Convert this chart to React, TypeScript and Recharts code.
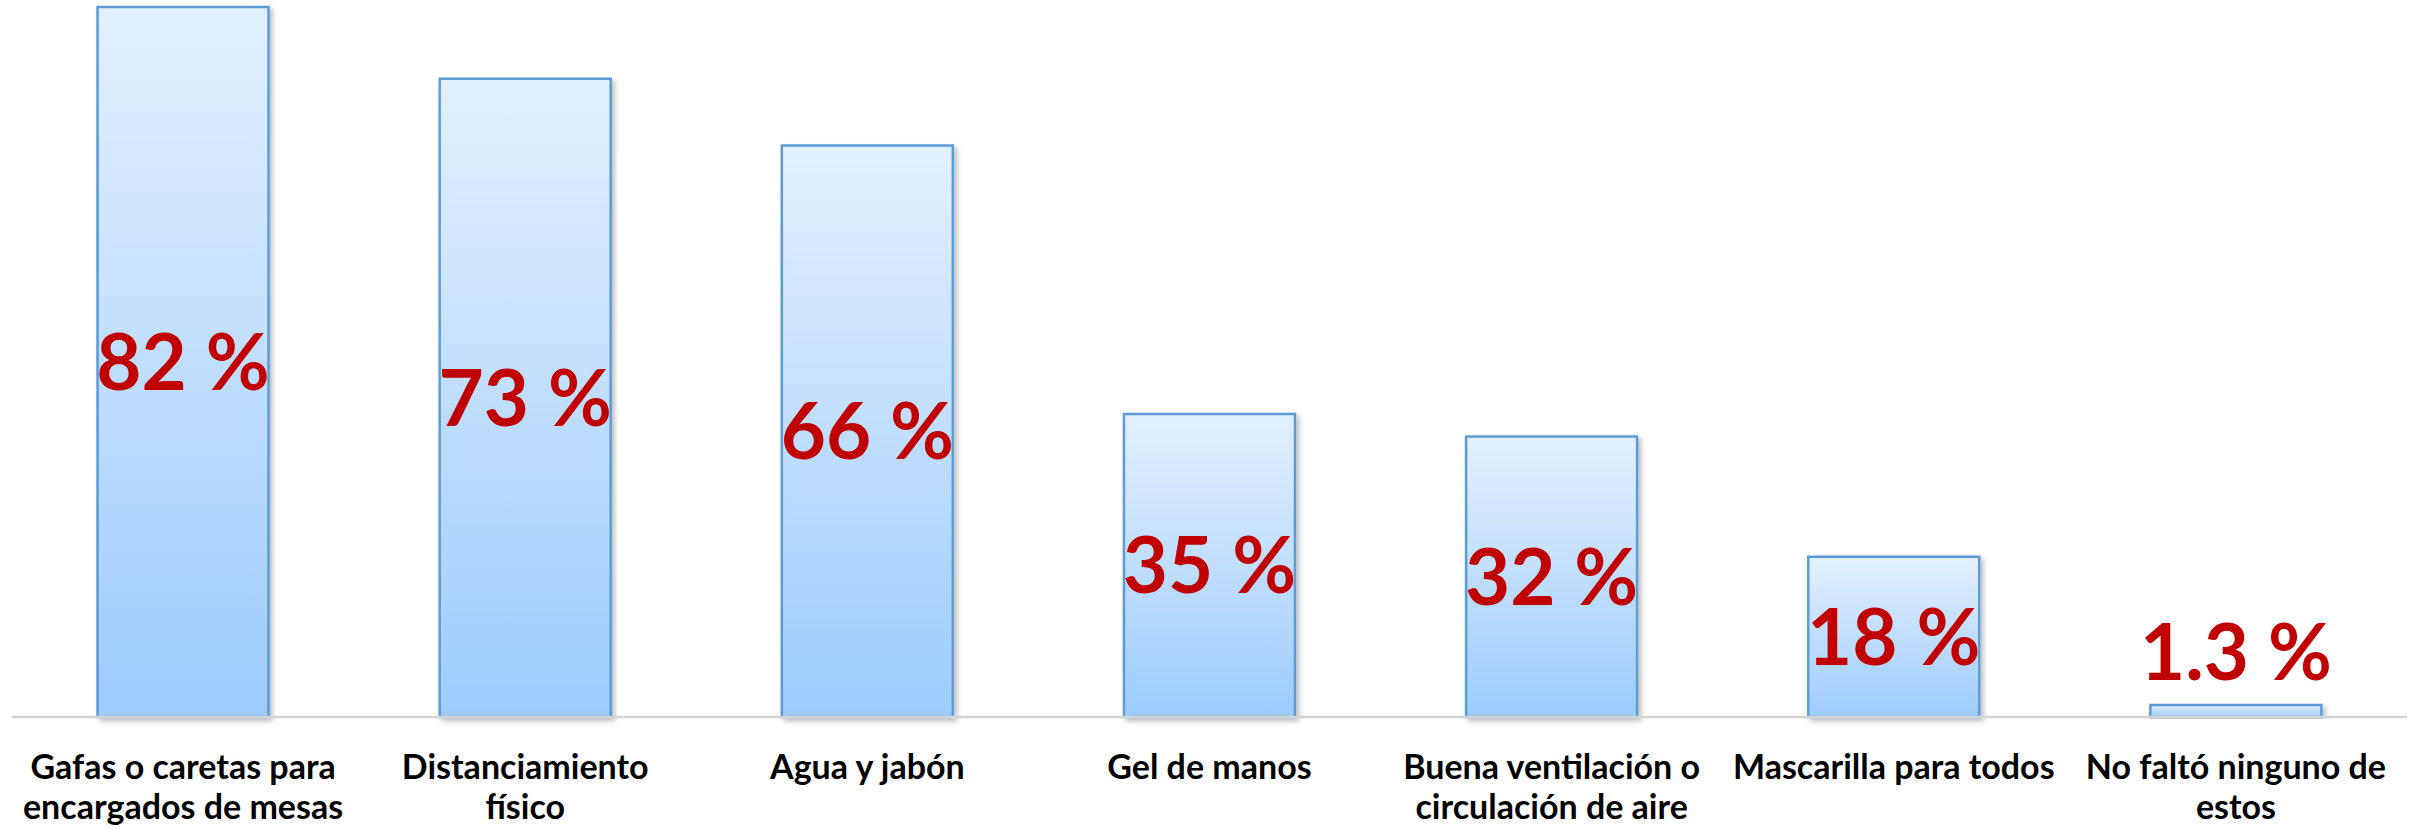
import React from 'react';
import { BarChart, Bar, XAxis, YAxis, LabelList } from 'recharts';

// Categories (line breaks as in the original)
const categories = [
  'Gafas o caretas para\nencargados de mesas',
  'Distanciamiento\nfísico',
  'Agua y jabón',
  'Gel de manos',
  'Buena ventilación o\ncirculación de aire',
  'Mascarilla para todos',
  'No faltó ninguno de\nestos',
];

// Bar heights (%)
const values = [82, 73.7, 66, 35, 32.4, 18.5, 1.4];

// Printed labels
const valueLabels = ['82 %', '73 %', '66 %', '35 %', '32 %', '18 %', '1.3 %'];

const data = categories.map((name, i) => ({ name, value: values[i], label: valueLabels[i] }));

const FONT = 'Lato, "Open Sans", sans-serif';

const CategoryTick = (props: any) => {
  const { x, y, payload } = props;
  const lines: string[] = String(payload.value).split('\n');
  return (
    <text x={x} y={y} textAnchor="middle" fontFamily={FONT} fontWeight={700} fontSize={34} fill="#000">
      {lines.map((line, i) => (
        <tspan key={i} x={x} dy={i === 0 ? 54 : 40}>{line}</tspan>
      ))}
    </text>
  );
};

const ValueLabel = (props: any) => {
  const { x, y, width, height, index } = props;
  const cx = x + width / 2;
  const inside = height > 60;
  const ty = inside ? y + height / 2 + 28 : y - 25;
  return (
    <text x={cx} y={ty} textAnchor="middle" fontFamily={FONT} fontWeight={700} fontSize={78} fill="#C00000">
      {valueLabels[index]}
    </text>
  );
};

const App: React.FC = () => {
  return (
    <div style={{ position: 'fixed', left: 0, top: 0, width: 2422, height: 829, background: '#fff' }}>
      <BarChart
        width={2422}
        height={829}
        data={data}
        margin={{ top: 7, right: 15, left: 12, bottom: 0 }}
        barCategoryGap="25%"
      >
        <defs>
          <linearGradient id="barFill" x1="0" y1="0" x2="0" y2="1">
            <stop offset="0%" stopColor="#E3F0FE" />
            <stop offset="100%" stopColor="#9DCCFC" />
          </linearGradient>
          <filter id="barShadow" x="-10%" y="-10%" width="125%" height="125%">
            <feDropShadow dx="3" dy="3" stdDeviation="2.5" floodColor="#000" floodOpacity="0.25" />
          </filter>
        </defs>
        <XAxis
          dataKey="name"
          height={112}
          axisLine={{ stroke: '#D4D4D4', strokeWidth: 2.5 }}
          tickLine={false}
          tick={<CategoryTick />}
          interval={0}
        />
        <YAxis hide domain={[0, 82]} />
        <Bar
          dataKey="value"
          fill="url(#barFill)"
          stroke="#5B9BD5"
          strokeWidth={2.5}
          filter="url(#barShadow)"
          isAnimationActive={false}
        >
          <LabelList dataKey="label" content={<ValueLabel />} />
        </Bar>
      </BarChart>
    </div>
  );
};

export default App;
